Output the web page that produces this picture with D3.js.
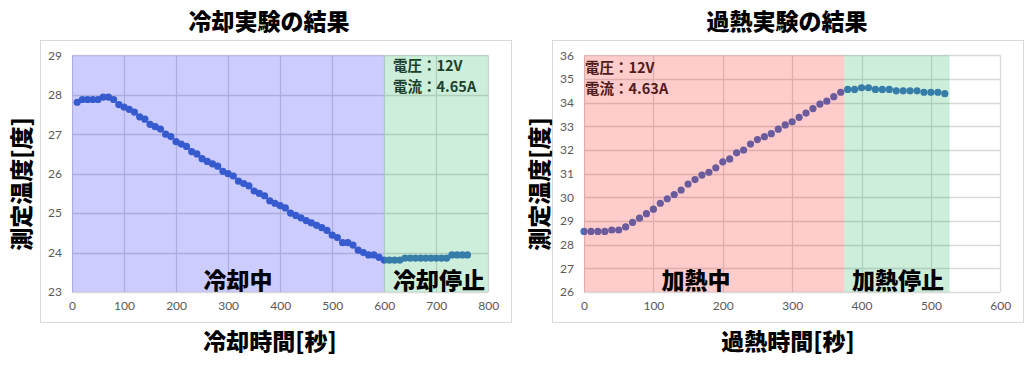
<!DOCTYPE html>
<html>
<head>
<meta charset="utf-8">
<script src="https://cdn.jsdelivr.net/npm/d3@7"></script>
<style>
  html, body { margin: 0; padding: 0; background: #fff; }
  .tick-lbl { font-family: Lato, "Open Sans", sans-serif; font-size: 12px; fill: #595959; }
  .jp { font-family: "Noto Sans CJK JP", sans-serif; font-weight: 900; fill: #000; }
</style>
</head>
<body>
<div id="chart"></div>
<script>
// 冷却実験 (時間[秒], 温度[度])
const coolTime = [10, 20, 30, 40, 50, 60, 70, 80, 90, 100, 110, 120, 130, 140, 150, 160, 170, 180, 190, 200,
  210, 220, 230, 240, 250, 260, 270, 280, 290, 300, 310, 320, 330, 340, 350, 360, 370, 380, 390, 400,
  410, 420, 430, 440, 450, 460, 470, 480, 490, 500, 510, 520, 530, 540, 550, 560, 570, 580, 590];
const coolTemp = [27.81, 27.88, 27.88, 27.88, 27.88, 27.94, 27.94, 27.88, 27.75, 27.69, 27.63, 27.56, 27.44, 27.38, 27.25, 27.19, 27.13, 27.0, 26.94, 26.81,
  26.75, 26.69, 26.56, 26.5, 26.38, 26.31, 26.25, 26.19, 26.06, 26.0, 25.94, 25.81, 25.75, 25.69, 25.56, 25.5, 25.44, 25.31, 25.25, 25.19,
  25.13, 25.0, 24.94, 24.88, 24.81, 24.75, 24.69, 24.63, 24.56, 24.44, 24.38, 24.25, 24.25, 24.19, 24.06, 24.0, 23.94, 23.94, 23.88];
const coolStopTime = [600, 610, 620, 630, 640, 650, 660, 670, 680, 690, 700, 710, 720, 730, 740, 750, 760];
const coolStopTemp = [23.81, 23.81, 23.81, 23.81, 23.86, 23.86, 23.86, 23.86, 23.86, 23.86, 23.86, 23.86, 23.86, 23.94, 23.94, 23.94, 23.94];

// 過熱実験
const heatTime = [0, 10, 20, 30, 40, 50, 60, 70, 80, 90, 100, 110, 120, 130, 140, 150, 160, 170, 180, 190,
  200, 210, 220, 230, 240, 250, 260, 270, 280, 290, 300, 310, 320, 330, 340, 350, 360, 370];
const heatTemp = [28.56, 28.56, 28.56, 28.56, 28.62, 28.62, 28.75, 28.94, 29.12, 29.31, 29.5, 29.75, 29.94, 30.12, 30.31, 30.56, 30.75, 30.94, 31.06, 31.25,
  31.5, 31.62, 31.88, 32.0, 32.25, 32.44, 32.56, 32.69, 32.88, 33.06, 33.19, 33.38, 33.56, 33.75, 33.94, 34.06, 34.25, 34.44];
const heatStopTime = [380, 390, 400, 410, 420, 430, 440, 450, 460, 470, 480, 490, 500, 510, 520];
const heatStopTemp = [34.56, 34.56, 34.63, 34.63, 34.56, 34.56, 34.56, 34.5, 34.5, 34.5, 34.5, 34.44, 34.44, 34.44, 34.38];

const coolXTicks = [0, 100, 200, 300, 400, 500, 600, 700, 800];
const coolYTicks = [23, 24, 25, 26, 27, 28, 29];
const heatXTicks = [0, 100, 200, 300, 400, 500, 600];
const heatYTicks = [26, 27, 28, 29, 30, 31, 32, 33, 34, 35, 36];

const W = 1024, H = 371;
const size_dot = 3.6;

const svg = d3.select("#chart").append("svg")
  .attr("width", W).attr("height", H);

function zip(xs, ys) {
  return xs.map((x, i) => ({ x: x, y: ys[i] }));
}

function drawChart(cfg) {
  const g = svg.append("g").attr("transform", `translate(${cfg.ox},0)`);

  // 外枠
  g.append("rect")
    .attr("x", 40.5).attr("y", 40.5)
    .attr("width", 471).attr("height", 282)
    .attr("fill", "#fff").attr("stroke", "#d9d9d9");

  const x = d3.scaleLinear().domain(d3.extent(cfg.xTicks)).range([72, 488.3]);
  const y = d3.scaleLinear().domain(d3.extent(cfg.yTicks)).range([292, 55.3]);

  // グリッド
  g.append("g").selectAll("line").data(cfg.yTicks).enter().append("line")
    .attr("x1", x.range()[0]).attr("x2", x.range()[1])
    .attr("y1", (d) => Math.round(y(d)) + 0.5).attr("y2", (d) => Math.round(y(d)) + 0.5)
    .attr("stroke", "#d9d9d9").attr("stroke-width", 1.3);
  g.append("g").selectAll("line").data(cfg.xTicks).enter().append("line")
    .attr("y1", y.range()[0]).attr("y2", y.range()[1])
    .attr("x1", (d) => Math.round(x(d)) + 0.5).attr("x2", (d) => Math.round(x(d)) + 0.5)
    .attr("stroke", "#d9d9d9").attr("stroke-width", 1.3);

  // 目盛り
  const yAxis = g.append("g")
    .attr("transform", `translate(${x.range()[0]},0)`)
    .call(d3.axisLeft(y).tickValues(cfg.yTicks).tickFormat(d3.format("d")).tickSize(0).tickPadding(10));
  const xAxis = g.append("g")
    .attr("transform", `translate(0,${y.range()[0]})`)
    .call(d3.axisBottom(x).tickValues(cfg.xTicks).tickFormat(d3.format("d")).tickSize(0).tickPadding(9));
  [xAxis, yAxis].forEach((a) => {
    a.select(".domain").remove();
    a.selectAll("text").attr("class", "tick-lbl").attr("fill", null);
  });

  // 電圧・電流
  const info = g.append("g").attr("class", "jp")
    .style("font-size", "14.5px").style("font-weight", 700);
  cfg.info.forEach((s, i) => {
    info.append("text")
      .attr("x", cfg.infoX).attr("y", cfg.infoY + i * 21)
      .attr("dy", "0.35em")
      .attr("fill", "#262626")
      .text(s);
  });

  // 測定点
  const pts = zip(cfg.time, cfg.temp).concat(zip(cfg.stopTime, cfg.stopTemp));
  g.append("g").selectAll("circle").data(pts).enter().append("circle")
    .attr("cx", (d) => x(d.x)).attr("cy", (d) => y(d.y))
    .attr("r", size_dot).attr("fill", "#4472c4");

  // 区間の塗り (上に重ねる)
  cfg.zones.forEach((z) => {
    g.append("rect")
      .attr("x", x(z.from)).attr("y", y.range()[1])
      .attr("width", x(z.to) - x(z.from))
      .attr("height", y.range()[0] - y.range()[1])
      .attr("fill", z.color).attr("fill-opacity", 0.2);
  });

  // ラベル
  cfg.zones.forEach((z) => {
    g.append("text").attr("class", "jp")
      .attr("x", z.lblX).attr("y", 281)
      .attr("dy", "0.36em")
      .attr("text-anchor", "middle")
      .style("font-size", "23px")
      .text(z.label);
  });

  // タイトル
  g.append("text").attr("class", "jp")
    .attr("x", cfg.titleX).attr("y", 22).attr("dy", "0.36em")
    .attr("text-anchor", "middle").style("font-size", "23px")
    .text(cfg.title);
  g.append("text").attr("class", "jp")
    .attr("x", cfg.titleX + 1).attr("y", 342).attr("dy", "0.36em")
    .attr("text-anchor", "middle").style("font-size", "23px")
    .text(cfg.xTitle);
  g.append("text").attr("class", "jp")
    .attr("transform", `translate(${cfg.yTitleX},184) rotate(-90)`)
    .attr("dy", "0.36em")
    .attr("text-anchor", "middle").style("font-size", "23px")
    .text("測定温度[度]");
}

drawChart({
  ox: 0,
  title: "冷却実験の結果",
  xTitle: "冷却時間[秒]",
  titleX: 269,
  yTitleX: 22,
  xTicks: coolXTicks,
  yTicks: coolYTicks,
  time: coolTime, temp: coolTemp,
  stopTime: coolStopTime, stopTemp: coolStopTemp,
  info: ["電圧：12V", "電流：4.65A"],
  infoX: 393, infoY: 66,
  zones: [
    { from: 0, to: 600, color: "#0000ff", label: "冷却中", lblX: 238 },
    { from: 600, to: 800, color: "#00aa46", label: "冷却停止", lblX: 439 }
  ]
});

drawChart({
  ox: 512,
  title: "過熱実験の結果",
  xTitle: "過熱時間[秒]",
  titleX: 275,
  yTitleX: 28,
  xTicks: heatXTicks,
  yTicks: heatYTicks,
  time: heatTime, temp: heatTemp,
  stopTime: heatStopTime, stopTemp: heatStopTemp,
  info: ["電圧：12V", "電流：4.63A"],
  infoX: 73, infoY: 68,
  zones: [
    { from: 0, to: 375, color: "#ff0000", label: "加熱中", lblX: 184 },
    { from: 375, to: 527, color: "#00aa46", label: "加熱停止", lblX: 386 }
  ]
});
</script>
</body>
</html>
